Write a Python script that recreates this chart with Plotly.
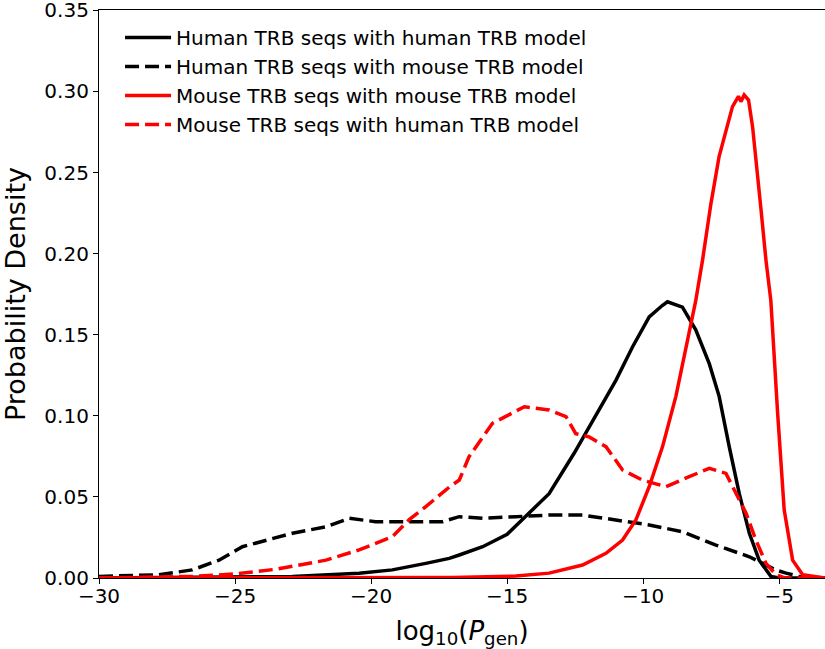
import plotly.graph_objects as go

# Human TRB seqs with human TRB model
hh_x = [-30, -25, -22.9, -20.44, -19.22, -17.99, -17.13, -16.76, -15.9, -15.0, -14.37, -13.46, -12.54,
        -11.62, -11.0, -10.39, -9.78, -9.3, -9.11, -8.56, -8.07, -7.57, -7.21, -6.84, -6.47, -6.1,
        -5.74, -5.31, -5.0, -3.32]
hh_y = [0.0, 0.0005, 0.001, 0.003, 0.005, 0.009, 0.0121, 0.0142, 0.0193, 0.027, 0.0375, 0.052, 0.0769,
        0.1036, 0.122, 0.1426, 0.161, 0.168, 0.1703, 0.167, 0.153, 0.132, 0.112, 0.081, 0.052, 0.0276,
        0.011, 0.001, 0.0, 0.0]

# Human TRB seqs with mouse TRB model
hm_x = [-30, -27.8, -26.57, -25.59, -24.73, -23.87, -22.89, -21.66, -20.8, -19.83, -18.6, -17.38,
        -16.76, -15.9, -14.68, -13.46, -12.23, -11.0, -9.78, -8.56, -7.33, -6.1, -5.12, -4.75, -4.26, -3.32]
hm_y = [0.001, 0.002, 0.005, 0.011, 0.0193, 0.0234, 0.0276, 0.0316, 0.0368, 0.0347, 0.0347, 0.0347,
        0.0378, 0.0368, 0.0378, 0.0388, 0.0388, 0.0358, 0.0327, 0.0285, 0.0203, 0.0131, 0.0049, 0.003, 0.001, 0.0]

# Mouse TRB seqs with mouse TRB model
mm_x = [-30, -20, -17, -14.68, -13.46, -12.23, -11.37, -10.76, -10.27, -9.78, -9.29, -8.8, -8.43,
        -8.07, -7.82, -7.51, -7.21, -6.96, -6.72, -6.5, -6.41, -6.29, -6.13, -5.98, -5.86, -5.67,
        -5.49, -5.31, -5.06, -4.82, -4.51, -4.14, -3.32]
mm_y = [0.0, 0.0, 0.0003, 0.0012, 0.003, 0.008, 0.0152, 0.0234, 0.0358, 0.0563, 0.081, 0.112, 0.1426,
        0.171, 0.196, 0.231, 0.26, 0.276, 0.2906, 0.297, 0.2937, 0.2978, 0.2947, 0.278, 0.26, 0.227,
        0.196, 0.171, 0.1015, 0.042, 0.011, 0.002, 0.0]

# Mouse TRB seqs with human TRB model
mh_x = [-30, -28, -26.57, -24.97, -23.5, -21.66, -20.44, -19.22, -18.6, -17.99, -17.13, -16.76, -16.4,
        -15.54, -14.37, -13.46, -12.84, -12.48, -11.99, -11.37, -10.76, -10.03, -9.17, -8.31, -7.57,
        -6.96, -6.59, -6.22, -5.86, -5.49, -5.12, -4.8, -3.32]
mh_y = [0.0, 0.0003, 0.001, 0.0025, 0.0054, 0.011, 0.0173, 0.0255, 0.036, 0.044, 0.056, 0.0604, 0.0748,
        0.0954, 0.1056, 0.1036, 0.0995, 0.089, 0.087, 0.081, 0.0666, 0.0604, 0.0563, 0.0625, 0.0676,
        0.0645, 0.0522, 0.0399, 0.0234, 0.009, 0.002, 0.0, 0.0]

names = ["Human TRB seqs with human TRB model", "Human TRB seqs with mouse TRB model",
         "Mouse TRB seqs with mouse TRB model", "Mouse TRB seqs with human TRB model"]
x_ticks = [-30, -25, -20, -15, -10, -5]
y_ticks = [0.0, 0.05, 0.10, 0.15, 0.20, 0.25, 0.30, 0.35]

series = [(hh_x, hh_y, "black", "solid"), (hm_x, hm_y, "black", "14px,6px"),
          (mm_x, mm_y, "red", "solid"), (mh_x, mh_y, "red", "14px,6px")]

fig = go.Figure()
for i, (xs, ys, c, d) in enumerate(series):
    fig.add_trace(go.Scatter(x=xs, y=ys, mode="lines", name=names[i], legendgroup=str(i),
                             line=dict(color=c, width=3.5, dash=d)))

font = "DejaVu Sans, sans-serif"
fig.update_layout(
    width=825, height=649,
    margin=dict(l=99, r=0, t=10, b=71),
    plot_bgcolor="white", paper_bgcolor="white",
    font=dict(family=font, size=20, color="black"),
    legend=dict(x=0.029, y=0.986, xanchor="left", yanchor="top", bgcolor="rgba(0,0,0,0)",
                font=dict(size=20), tracegroupgap=0, itemwidth=46),
    xaxis=dict(range=[-30, -3.32], tickvals=x_ticks, ticktext=[f"\u2212{abs(v)}" for v in x_ticks],
               showline=True, linecolor="black", linewidth=1.2, mirror=True, ticks="outside",
               ticklen=5, tickcolor="black", showgrid=False, zeroline=False, automargin=False,
               tickfont=dict(size=20), ticklabelstandoff=-5, ticklabeloverflow="allow",
               title=dict(text="log<sub>10</sub>(<i>P</i><sub>gen</sub>)", font=dict(size=26))),
    yaxis=dict(range=[0, 0.3502], tickvals=y_ticks, ticktext=[f"{v:.2f}" for v in y_ticks],
               showline=True, linecolor="black", linewidth=1.2, ticks="outside", ticklen=5,
               tickcolor="black", showgrid=False, zeroline=False, automargin=False,
               tickfont=dict(size=20), ticklabeloverflow="allow",
               title=dict(text="Probability Density", font=dict(size=27))),
)
fig.write_html("out.html", config={"displayModeBar": False},
               post_script="document.body.style.margin='0';")
